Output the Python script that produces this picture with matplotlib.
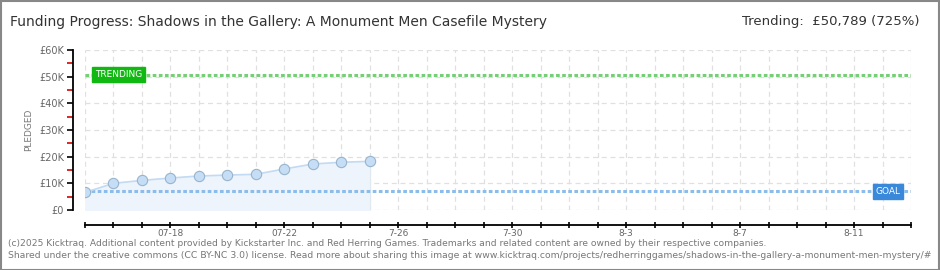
import matplotlib
matplotlib.use("Agg")
import matplotlib.pyplot as plt
from matplotlib.patches import Rectangle
from matplotlib.ticker import MultipleLocator, FixedLocator

plt.rcParams['font.family'] = ['DejaVu Sans']

title = "Funding Progress: Shadows in the Gallery: A Monument Men Casefile Mystery"
trend_text = "Trending:  £50,789 (725%)"
day_index = list(range(11))
pledged = [6600, 10000, 11100, 12000, 12750, 13100, 13400, 15400, 17250, 17900, 18250]
goal = 7005
trending = 50789
x_tick_pos = [3, 7, 11, 15, 19, 23, 27]
x_tick_labels = ["07-18", "07-22", "7-26", "7-30", "8-3", "8-7", "8-11"]
y_ticks = [0, 10000, 20000, 30000, 40000, 50000, 60000]
y_labels = ["£0", "£10K", "£20K", "£30K", "£40K", "£50K", "£60K"]
n_days = 29
footer1 = "(c)2025 Kicktraq. Additional content provided by Kickstarter Inc. and Red Herring Games. Trademarks and related content are owned by their respective companies."
footer2 = "Shared under the creative commons (CC BY-NC 3.0) license. Read more about sharing this image at www.kicktraq.com/projects/redherringgames/shadows-in-the-gallery-a-monument-men-mystery/#"

W, H = 940, 270
fig = plt.figure(figsize=(W/100, H/100), dpi=100)
fig.patch.set_facecolor('white')
fig.add_artist(Rectangle((0.5/W, 0.5/H), 1-1.5/W, 1-1.5/H, transform=fig.transFigure,
                         fill=False, edgecolor='#888888', linewidth=1.5))

ax = fig.add_axes([85/W, (H-210)/H, (911-85)/W, 160/H])
ax.set_xlim(0, n_days)
ax.set_ylim(0, 60000)

for d in range(n_days + 1):
    ax.axvline(d, color='#e0e0e0', lw=0.9, ls=(0, (4, 3)), zorder=0)
for yv in y_ticks:
    ax.axhline(yv, color='#e0e0e0', lw=0.9, ls=(0, (4, 3)), zorder=0)

ax.fill_between(day_index, pledged, 0, color='#edf4fc', zorder=1)
ax.plot([day_index[-1], day_index[-1]], [0, pledged[-1]], color='#e0e8f0', lw=0.8, zorder=1)
ax.plot(day_index, pledged, color='#c2daf2', lw=1.2, zorder=3)
ax.scatter(day_index, pledged, s=55, facecolor='#c6ddf6', edgecolor='#98b4cc', linewidth=0.8, zorder=4)

ax.axhline(goal, color='#8cbcea', lw=2.2, ls=(0, (1.2, 0.8)), zorder=2)
ax.axhline(trending, color='#76cf76', lw=2.2, ls=(0, (1.2, 0.8)), zorder=2)

ax.text(0.35, trending, "TRENDING", color='white', fontsize=6.5,
        va='center', ha='left', zorder=6,
        bbox=dict(boxstyle='square,pad=0.3', fc='#12b812', ec='#12b812'))
ax.text(28.2, goal, "GOAL", color='white', fontsize=6.5,
        va='center', ha='center', zorder=6,
        bbox=dict(boxstyle='square,pad=0.3', fc='#3a88da', ec='#3a88da'))

for s in ['top', 'right']:
    ax.spines[s].set_visible(False)
ax.spines['left'].set_position(('outward', 9))
ax.spines['bottom'].set_position(('outward', 11))
ax.spines['left'].set_bounds(0, 60000)
ax.spines['left'].set_linewidth(1.3)
ax.spines['bottom'].set_linewidth(1.3)

ax.yaxis.set_major_locator(FixedLocator(y_ticks))
ax.set_yticklabels(y_labels)
ax.yaxis.set_minor_locator(FixedLocator([5000, 15000, 25000, 35000, 45000, 55000]))
ax.tick_params(axis='y', which='major', length=4, width=1.2, color='black', labelsize=7, labelcolor='#666666', pad=2)
ax.tick_params(axis='y', which='minor', length=4, width=1.2, color='#dd0000')

ax.xaxis.set_major_locator(FixedLocator(x_tick_pos))
ax.set_xticklabels(x_tick_labels)
ax.xaxis.set_minor_locator(MultipleLocator(1))
ax.tick_params(axis='x', which='both', direction='inout', length=5, width=1.2, color='black',
               labelsize=6.5, labelcolor='#666666', pad=0)

ax.set_ylabel("PLEDGED", fontsize=6.5, color='#777777', labelpad=4)

fig.text(10/W, 1-22/H, title, fontsize=10, color='#333333', va='center', ha='left')
fig.text(920/W, 1-22/H, trend_text, fontsize=9.5, color='#333333', va='center', ha='right')
fig.text(8/W, 1-243/H, footer1, fontsize=6.6, color='#777777', va='center', ha='left')
fig.text(8/W, 1-256/H, footer2, fontsize=6.7, color='#777777', va='center', ha='left')

fig.savefig("out.png", dpi=100)
